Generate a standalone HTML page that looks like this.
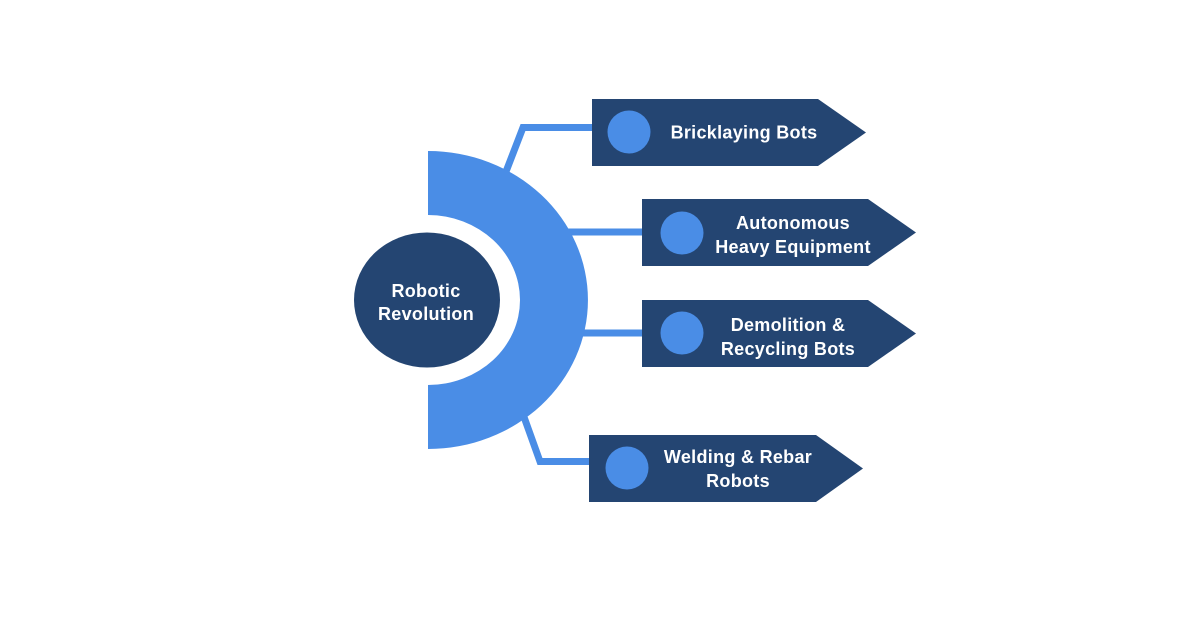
<!DOCTYPE html>
<html>
<head>
<meta charset="utf-8">
<style>
html,body{margin:0;padding:0;background:#fff;}
svg{display:block;}
text{font-family:"Liberation Sans",Arial,sans-serif;font-weight:bold;font-size:18px;fill:#fff;letter-spacing:0.3px;}
</style>
</head>
<body>
<svg width="1200" height="628" viewBox="0 0 1200 628" xmlns="http://www.w3.org/2000/svg">
<rect width="1200" height="628" fill="#fff"/>
<!-- connectors -->
<g stroke="#4a8de6" stroke-width="7" fill="none" stroke-linejoin="miter">
<polyline points="502,182 523,127.5 596,127.5"/>
<line x1="560" y1="232" x2="646" y2="232"/>
<line x1="560" y1="333" x2="646" y2="333"/>
<polyline points="519,403 540,461.5 593,461.5"/>
</g>
<!-- half ring -->
<path d="M428,151 A160,149 0 0 1 428,449 L428,385 A92,85 0 0 0 428,215 Z" fill="#4a8de6"/>
<!-- center circle -->
<ellipse cx="427" cy="300" rx="73" ry="67.5" fill="#244572"/>
<text x="426" y="297" text-anchor="middle">Robotic</text>
<text x="426" y="320" text-anchor="middle">Revolution</text>
<!-- box 1 -->
<polygon points="592,99 818,99 866,132.5 818,166 592,166" fill="#244572"/>
<circle cx="629" cy="132" r="21.5" fill="#4a8de6"/>
<text x="744" y="138.5" text-anchor="middle">Bricklaying Bots</text>
<!-- box 2 -->
<polygon points="642,199 868,199 916,232.5 868,266 642,266" fill="#244572"/>
<circle cx="682" cy="233" r="21.5" fill="#4a8de6"/>
<text x="793" y="229" text-anchor="middle">Autonomous</text>
<text x="793" y="253" text-anchor="middle">Heavy Equipment</text>
<!-- box 3 -->
<polygon points="642,300 868,300 916,333.5 868,367 642,367" fill="#244572"/>
<circle cx="682" cy="333" r="21.5" fill="#4a8de6"/>
<text x="788" y="331" text-anchor="middle">Demolition &amp;</text>
<text x="788" y="355" text-anchor="middle">Recycling Bots</text>
<!-- box 4 -->
<polygon points="589,435 816,435 863,468.5 816,502 589,502" fill="#244572"/>
<circle cx="627" cy="468" r="21.5" fill="#4a8de6"/>
<text x="738" y="463" text-anchor="middle">Welding &amp; Rebar</text>
<text x="738" y="487" text-anchor="middle">Robots</text>
</svg>
</body>
</html>
